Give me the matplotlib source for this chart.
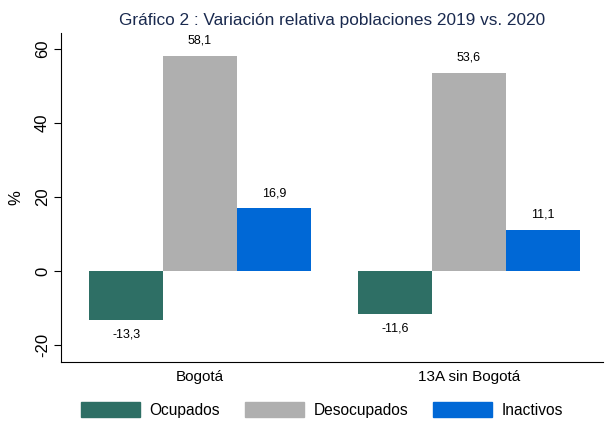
import numpy as np
import matplotlib.pyplot as plt
import matplotlib.patches as mpatches

plt.rcParams['font.family'] = ['Liberation Sans', 'DejaVu Sans']

groups = ["Bogotá", "13A sin Bogotá"]
series = ["Ocupados", "Desocupados", "Inactivos"]
ocupados = [-13.3, -11.6]
desocupados = [58.1, 53.6]
inactivos = [16.9, 11.1]
colors = ["#2e6f65", "#afafaf", "#0068d6"]

fig = plt.figure(figsize=(6.05, 4.21), dpi=100)
ax = fig.add_axes([61 / 605, 59 / 421, 542 / 605, 329 / 421])

x = np.arange(len(groups))
w = 0.275
values = [ocupados, desocupados, inactivos]
for i, (name, vals, c) in enumerate(zip(series, values, colors)):
    pos = x + (i - 1) * w
    ax.bar(pos, vals, width=w, color=c, label=name)
    for p, v in zip(pos, vals):
        txt = f"{v:.1f}".replace(".", ",")
        if v >= 0:
            ax.annotate(txt, (p, v), xytext=(0, 6.5), textcoords="offset points",
                        ha="center", va="bottom", fontsize=9)
        else:
            ax.annotate(txt, (p, v), xytext=(0, -6), textcoords="offset points",
                        ha="center", va="top", fontsize=9)

ax.set_xlim(-0.517, 1.498)
ax.set_ylim(-24.6, 64.3)
ax.set_yticks([-20, 0, 20, 40, 60])
ax.set_yticklabels(["-20", "0", "20", "40", "60"], rotation=90, va="center", fontsize=12)
ax.set_xticks(x)
ax.set_xticklabels(groups, fontsize=11)
ax.tick_params(axis="x", length=0, pad=6)
ax.tick_params(axis="y", length=5, pad=3)
ax.set_ylabel("%", fontsize=12, labelpad=8)
ax.spines["top"].set_visible(False)
ax.spines["right"].set_visible(False)
ax.spines["left"].set_linewidth(0.8)
ax.spines["bottom"].set_linewidth(0.8)

ax.set_title("Gráfico 2 : Variación relativa poblaciones 2019 vs. 2020",
             fontsize=12.4, color="#1a2a4f", pad=6)

handles = [mpatches.Patch(color=c, label=s) for s, c in zip(series, colors)]
fig.legend(handles=handles, loc="center", bbox_to_anchor=(322 / 605, 11 / 421),
           ncol=3, frameon=False, fontsize=11.2, handlelength=3.8, handleheight=1.15,
           columnspacing=1.6, handletextpad=0.6)

fig.savefig("out.png", dpi=100, facecolor="white")
